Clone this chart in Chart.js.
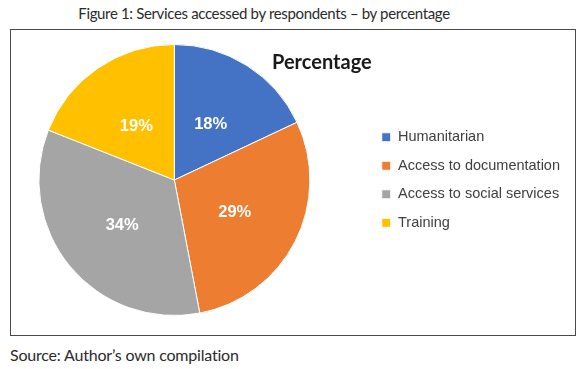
<!DOCTYPE html>
<html>
<head>
<meta charset="utf-8">
<script src="https://cdn.jsdelivr.net/npm/chart.js@4.4.1/dist/chart.umd.min.js"></script>
<style>
  html, body { margin: 0; padding: 0; background: #fff; }
  body { position: relative; width: 580px; height: 369px; overflow: hidden; font-family: Lato, "Noto Sans", sans-serif; color: #2b2b2b; }
  .caption { position: absolute; left: 0; top: 3px; width: 528px; text-align: center; font-size: 15px; letter-spacing: -0.35px; line-height: 20px; }
  .frame { position: absolute; left: 10px; top: 29px; width: 566px; height: 307px; box-sizing: border-box; border: 1px solid #4a4a4a; }
  .chart-wrap { position: absolute; left: -19px; top: 30px; width: 597px; height: 304px; }
  .pie-title { position: absolute; left: 272px; top: 49px; font-weight: bold; font-size: 20px; line-height: 24px; color: #1a1a1a; }
  .source { position: absolute; left: 10px; top: 344px; font-size: 16px; letter-spacing: -0.2px; line-height: 22px; }
</style>
</head>
<body>
<div class="caption">Figure 1: Services accessed by respondents – by percentage</div>
<div class="frame"></div>
<div class="chart-wrap"><canvas id="pie"></canvas></div>
<div class="pie-title">Percentage</div>
<div class="source">Source: Author’s own compilation</div>

<script>
// ---- data ----
const services = ['Humanitarian', 'Access to documentation', 'Access to social services', 'Training'];
const shares   = [18, 29, 34, 19];
const colours  = ['#4472C4', '#ED7D31', '#A5A5A5', '#FFC000'];

// white % labels half way out along each slice
const sliceLabels = {
  id: 'sliceLabels',
  afterDatasetsDraw(chart) {
    const ctx  = chart.ctx;
    const meta = chart.getDatasetMeta(0);
    ctx.save();
    ctx.fillStyle = '#fff';
    ctx.font = 'bold 16.5px "Liberation Sans", Arial, sans-serif';
    ctx.textAlign = 'center';
    ctx.textBaseline = 'middle';
    meta.data.forEach((arc, i) => {
      const p = arc.tooltipPosition();
      ctx.fillText(shares[i] + '%', p.x, p.y + 2);
    });
    ctx.restore();
  }
};

new Chart(document.getElementById('pie'), {
  type: 'pie',
  data: {
    labels: services,
    datasets: [{
      data: shares,
      backgroundColor: colours,
      borderColor: '#fff',
      borderWidth: 1,
    }]
  },
  options: {
    responsive: true,
    maintainAspectRatio: false,
    animation: false,
    layout: { padding: { left: 0, right: 8, top: 14, bottom: 18 } },
    plugins: {
      title: { display: false },
      tooltip: { enabled: false },
      legend: {
        position: 'right',
        labels: {
          boxWidth: 9, boxHeight: 9, padding: 14,
          color: '#404040',
          font: { family: '"Liberation Sans", Arial, sans-serif', size: 14.5 }
        }
      }
    }
  },
  plugins: [sliceLabels]
});
</script>
</body>
</html>
